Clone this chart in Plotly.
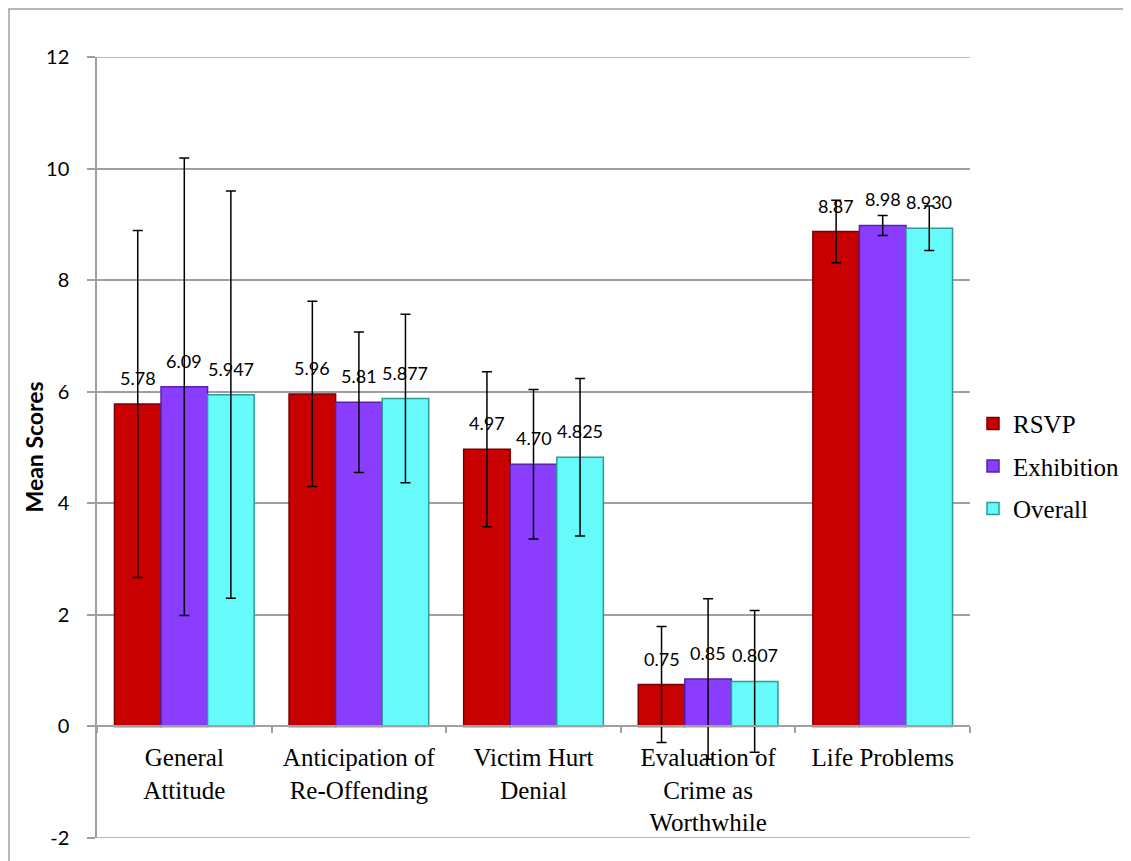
import plotly.graph_objects as go

categories = ["General<br>Attitude", "Anticipation of<br>Re-Offending", "Victim Hurt<br>Denial",
              "Evaluation of<br>Crime as<br>Worthwhile", "Life Problems"]
series_names = ["RSVP", "Exhibition", "Overall"]
rsvp = [5.78, 5.96, 4.97, 0.75, 8.87]
exhibition = [6.09, 5.81, 4.70, 0.85, 8.98]
overall = [5.947, 5.877, 4.825, 0.807, 8.930]
rsvp_sd = [3.11, 1.66, 1.39, 1.04, 0.56]
exhibition_sd = [4.10, 1.26, 1.34, 1.44, 0.18]
overall_sd = [3.65, 1.51, 1.41, 1.27, 0.40]
rsvp_lbl = ["5.78", "5.96", "4.97", "0.75", "8.87"]
exhibition_lbl = ["6.09", "5.81", "4.70", "0.85", "8.98"]
overall_lbl = ["5.947", "5.877", "4.825", "0.807", "8.930"]
y_ticks = [-2, 0, 2, 4, 6, 8, 10, 12]

colors = ["#C80000", "#8A3CFF", "#66FAFA"]
edge_colors = ["#7A0000", "#5522A8", "#2E9A9A"]

OFF = 8  # page body margin
W, H = 1131 - OFF, 861 - OFF
ml, mt = 97 - OFF, 57 - OFF
plot_w, plot_h = 873, 781
mr = W - ml - plot_w
mb = H - mt - plot_h
bargap = 0.2
bar_px = plot_w / len(categories) * (1 - bargap) / 3

fig = go.Figure()
vals = [rsvp, exhibition, overall]
sds = [rsvp_sd, exhibition_sd, overall_sd]
lbls = [rsvp_lbl, exhibition_lbl, overall_lbl]
for i, name in enumerate(series_names):
    fig.add_trace(go.Bar(
        x=categories, y=vals[i], name=name,
        marker=dict(color=colors[i], line=dict(color=edge_colors[i], width=1.5)),
        error_y=dict(type="data", array=sds[i], visible=True, color="black",
                     thickness=1.5, width=5),
        legendgroup=name,
    ))

annotations = []
for i in range(3):
    for c, v, t in zip(categories, vals[i], lbls[i]):
        annotations.append(dict(
            x=c, y=v, text=t, showarrow=False, xref="x", yref="y",
            xshift=(i - 1) * bar_px, yshift=13, yanchor="bottom",
            font=dict(family="Lato, Open Sans, sans-serif", size=18, color="black")))

annotations.append(dict(
    text="<b>Mean Scores</b>", x=(33 - 97) / plot_w, y=0.5, xref="paper", yref="paper",
    textangle=-90, showarrow=False, xanchor="center", yanchor="middle",
    font=dict(family="Lato, Open Sans, sans-serif", size=23, color="black")))
fig.update_layout(annotations=annotations)

# outer chart border (top and left visible; right/bottom fall outside the window)
fig.add_shape(type="rect", xref="paper", yref="paper",
              x0=(1 - ml) / plot_w, x1=(W + 30 - ml) / plot_w,
              y0=-60 / plot_h, y1=(plot_h + mt - 1) / plot_h,
              line=dict(color="#A0A0A0", width=1.5), fillcolor="rgba(0,0,0,0)", layer="below")

# gridlines at the range ends, which plotly omits at the plot edges
for yv in (y_ticks[0], y_ticks[-1]):
    fig.add_shape(type="line", xref="paper", yref="y", x0=0, x1=1, y0=yv, y1=yv,
                  line=dict(color="#A0A0A0", width=1.5), layer="below")

fig.update_layout(
    width=W, height=H,
    margin=dict(l=ml, r=mr, t=mt, b=mb, pad=0, autoexpand=False),
    paper_bgcolor="white", plot_bgcolor="white",
    barmode="group", bargap=bargap, bargroupgap=0,
    showlegend=True,
    legend=dict(x=(973 - 97) / plot_w, y=0.56, xanchor="left", yanchor="top",
                font=dict(family="Liberation Serif, Times New Roman, serif", size=25, color="black"),
                tracegroupgap=7, itemwidth=30, bgcolor="rgba(0,0,0,0)"),
    xaxis=dict(
        anchor="free", position=2 / 14,
        showline=True, linecolor="#A0A0A0", linewidth=1.5,
        ticks="outside", tickson="boundaries", ticklen=6, tickcolor="#A0A0A0", tickwidth=1.5,
        showgrid=False, ticklabelstandoff=9,
        tickfont=dict(family="Liberation Serif, Times New Roman, serif", size=25, color="black"),
    ),
    yaxis=dict(
        range=[-2, 12], tickvals=y_ticks, ticktext=[str(t) for t in y_ticks],
        showline=True, linecolor="#A0A0A0", linewidth=1.5,
        ticks="outside", ticklen=8, tickcolor="#A0A0A0", tickwidth=1.5,
        showgrid=True, gridcolor="#A0A0A0", gridwidth=1.5, zeroline=False,
        ticklabelstandoff=14,
        tickfont=dict(family="Lato, Open Sans, sans-serif", size=20, color="black"),
    ),
)

fig.write_html("out.html")
